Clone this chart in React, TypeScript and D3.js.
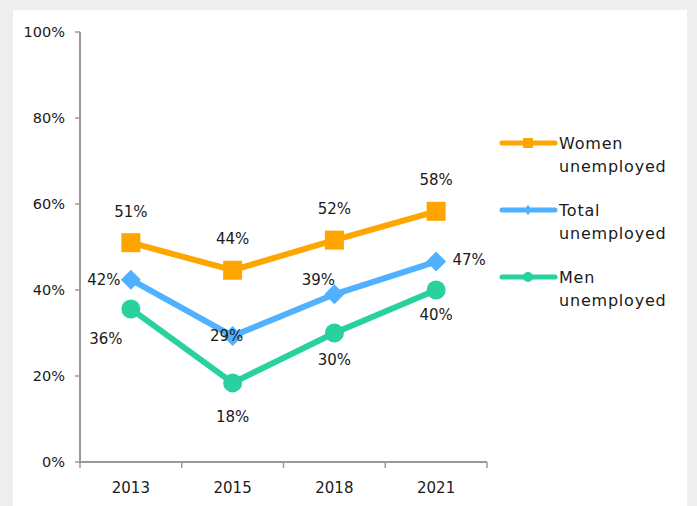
import React from "react";
import * as d3 from "d3";

const years = ["2013", "2015", "2018", "2021"];
const women = [51, 44.6, 51.6, 58.3];
const total = [42.4, 29.3, 39, 46.6];
const men = [35.6, 18.4, 30, 40];
const womenLabels = ["51%", "44%", "52%", "58%"];
const totalLabels = ["42%", "29%", "39%", "47%"];
const menLabels = ["36%", "18%", "30%", "40%"];
const yTicks = [0, 20, 40, 60, 80, 100];

const W = 697, H = 506;
const FONT = "'DejaVu Sans', sans-serif";

export default function App() {
  const x = d3.scaleBand<string>().domain(years).range([80, 487]);
  const y = d3.scaleLinear().domain([0, 100]).range([462, 32]);
  const cx = (i: number) => (x(years[i]) as number) + x.bandwidth() / 2;
  const line = d3.line<number>().x((_, i) => cx(i)).y((d) => y(d));

  const orange = "#FFA500";
  const blue = "#4FB1FF";
  const green = "#28D19E";
  const txt = "#1A1A1A";

  const series = [
    { name: "Women", vals: women, labels: womenLabels, color: orange, marker: "square" },
    { name: "Total", vals: total, labels: totalLabels, color: blue, marker: "diamond" },
    { name: "Men", vals: men, labels: menLabels, color: green, marker: "circle" },
  ];

  const offsets: Record<string, [number, number][]> = {
    Women: [[0, -31], [0, -31], [0, -31], [0, -31]],
    Total: [[-27, 0], [-6, 0], [-16, -14], [33, -2]],
    Men: [[-25, 30], [0, 34], [0, 27], [0, 25]],
  };

  const marker = (kind: string, px: number, py: number, color: string, key: string) => {
    if (kind === "square")
      return <rect key={key} x={px - 9.5} y={py - 9.5} width={19} height={19} fill={color} />;
    if (kind === "diamond")
      return (
        <path key={key} d={`M${px},${py - 10}L${px + 10},${py}L${px},${py + 10}L${px - 10},${py}Z`} fill={color} />
      );
    return <circle key={key} cx={px} cy={py} r={9.5} fill={color} />;
  };

  return (
    <svg width={W} height={H} style={{ position: "absolute", left: 0, top: 0, fontFamily: FONT }}>
      <rect x={0} y={0} width={W} height={H} fill="#EEEEEE" />
      <rect x={13} y={10} width={674} height={496} fill="#FFFFFF" />

      <line x1={80} x2={80} y1={y(100)} y2={y(0)} stroke="#9A9A9A" strokeWidth={2} />
      {yTicks.map((t) => (
        <g key={t}>
          <line x1={75} x2={80} y1={y(t)} y2={y(t)} stroke="#9A9A9A" strokeWidth={1.5} />
          <text x={65} y={y(t)} textAnchor="end" dominantBaseline="central" fontSize={14.5} fill={txt}>
            {t}%
          </text>
        </g>
      ))}

      <line x1={80} x2={487} y1={y(0)} y2={y(0)} stroke="#9A9A9A" strokeWidth={2} />
      {[...years.map((yr) => x(yr) as number), 487].map((p, i) => (
        <line key={i} x1={p} x2={p} y1={y(0)} y2={y(0) + 6} stroke="#9A9A9A" strokeWidth={1.5} />
      ))}
      {years.map((yr, i) => (
        <text key={yr} x={cx(i)} y={488} textAnchor="middle" dominantBaseline="central" fontSize={15} fill={txt}>
          {yr}
        </text>
      ))}

      {series.map((s) => (
        <path key={s.name} d={line(s.vals) as string} fill="none" stroke={s.color} strokeWidth={6} strokeLinejoin="round" />
      ))}
      {series.map((s) => s.vals.map((v, i) => marker(s.marker, cx(i), y(v), s.color, s.name + i)))}
      {series.map((s) =>
        s.vals.map((v, i) => (
          <text
            key={s.name + "l" + i}
            x={cx(i) + offsets[s.name][i][0]}
            y={y(v) + offsets[s.name][i][1]}
            textAnchor="middle"
            dominantBaseline="central"
            fontSize={15}
            fill={txt}
          >
            {s.labels[i]}
          </text>
        ))
      )}

      {series.map((s, k) => {
        const ly = [143, 210, 277][k];
        return (
          <g key={"lg" + s.name}>
            <line x1={502} x2={555} y1={ly} y2={ly} stroke={s.color} strokeWidth={5} strokeLinecap="round" />
            {s.marker === "square" && <rect x={523} y={ly - 5} width={10} height={10} fill={s.color} />}
            {s.marker === "diamond" && (
              <path d={`M528,${ly - 5}L532,${ly}L528,${ly + 5}L524,${ly}Z`} fill={s.color} />
            )}
            {s.marker === "circle" && <circle cx={528} cy={ly} r={5} fill={s.color} />}
            <text x={559} y={ly} dominantBaseline="central" fontSize={16} letterSpacing={0.8} fill={txt}>
              {s.name}
            </text>
            <text x={559} y={ly + 23} dominantBaseline="central" fontSize={16} letterSpacing={0.8} fill={txt}>
              unemployed
            </text>
          </g>
        );
      })}
    </svg>
  );
}
